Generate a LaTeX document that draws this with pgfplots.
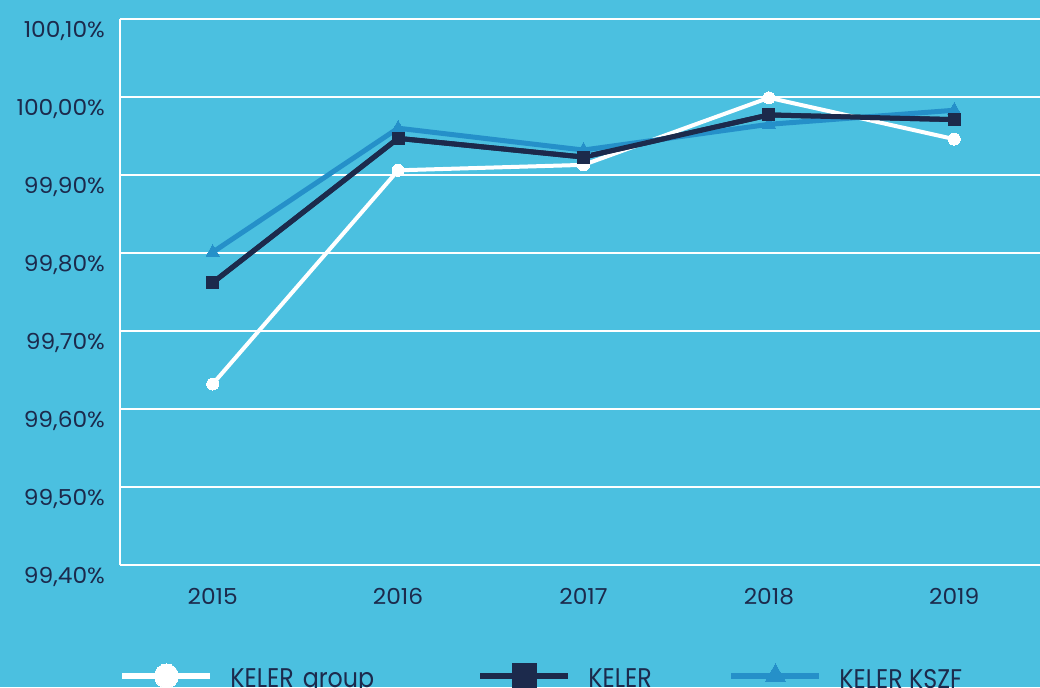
\documentclass[border=0pt]{standalone}
\usepackage{fontspec}
\setmainfont{Poppins}
\newfontfamily\tickfont[FakeStretch=1.06]{Poppins}
\newfontfamily\legfont[FakeStretch=0.88]{Poppins}
\usepackage{pgfplots}
\pgfplotsset{compat=1.18}
\definecolor{bg}{HTML}{4BC0E0}
\definecolor{navy}{HTML}{1C2A4C}
\definecolor{kblue}{HTML}{2590C9}
\begin{document}
\begin{tikzpicture}
\path[use as bounding box, fill=bg] (-60pt,-61pt) rectangle (460pt,282.5pt);
\begin{axis}[
  at={(0pt,0pt)}, anchor=south west,
  scale only axis, width=463.5pt, height=273pt,
  xmin=-0.5, xmax=4.5, ymin=99.4, ymax=100.1,
  xtick={0,1,2,3,4}, xticklabels={2015,2016,2017,2018,2019},
  ytick={99.4,99.5,99.6,99.7,99.8,99.9,100,100.1},
  yticklabels={{99,40\%},{99,50\%},{99,60\%},{99,70\%},{99,80\%},{99,90\%},{100,00\%},{100,10\%}},
  axis x line*=bottom, axis y line*=left,
  axis line style={white, line width=0.7pt},
  ymajorgrids, grid style={white, line width=0.7pt},
  major tick length=0pt,
  tick label style={text=navy, font=\tickfont\fontsize{11}{13}\selectfont},
  yticklabel style={yshift=-6pt, xshift=-4pt},
  xticklabel style={yshift=-8pt},
  legend columns=3,
  legend style={at={(-0.001,-0.2097)}, anchor=west, draw=none, fill=none, inner sep=0pt,
    /tikz/column sep=8.5pt,
    nodes={text=navy, font=\legfont\fontsize{13.5}{15}\selectfont, inner xsep=0pt, align=left, yshift=-2pt}},
  legend cell align=left,
  legend image code/.code={\draw[mark repeat=2,mark phase=2,#1,line width=3pt,mark size=6pt] plot coordinates {(0pt,0pt) (22pt,0pt) (44pt,0pt)};},
]
\addplot[white, line width=2pt, mark=*, mark size=3pt, mark options={fill=white, draw=white, line width=0pt}]
  coordinates {(0,99.632) (1,99.906) (2,99.913) (3,99.999) (4,99.946)};
\addlegendentry[text width=115pt]{KELER group}
\addplot[navy, line width=2.5pt, mark=square*, mark size=3pt, mark options={fill=navy, line width=0pt}]
  coordinates {(0,99.762) (1,99.947) (2,99.923) (3,99.977) (4,99.971)};
\addlegendentry[text width=61.5pt]{KELER}
\addplot[kblue, line width=2.5pt, mark=triangle*, mark size=3.8pt, mark options={fill=kblue, line width=0pt}]
  coordinates {(0,99.801) (1,99.960) (2,99.932) (3,99.965) (4,99.983)};
\addlegendentry{KELER KSZF}
\addplot[navy, line width=2.5pt, mark=square*, mark size=3pt, mark options={fill=navy, line width=0pt}, forget plot]
  coordinates {(0,99.762) (1,99.947) (2,99.923) (3,99.977) (4,99.971)};
\end{axis}
\end{tikzpicture}
\end{document}
